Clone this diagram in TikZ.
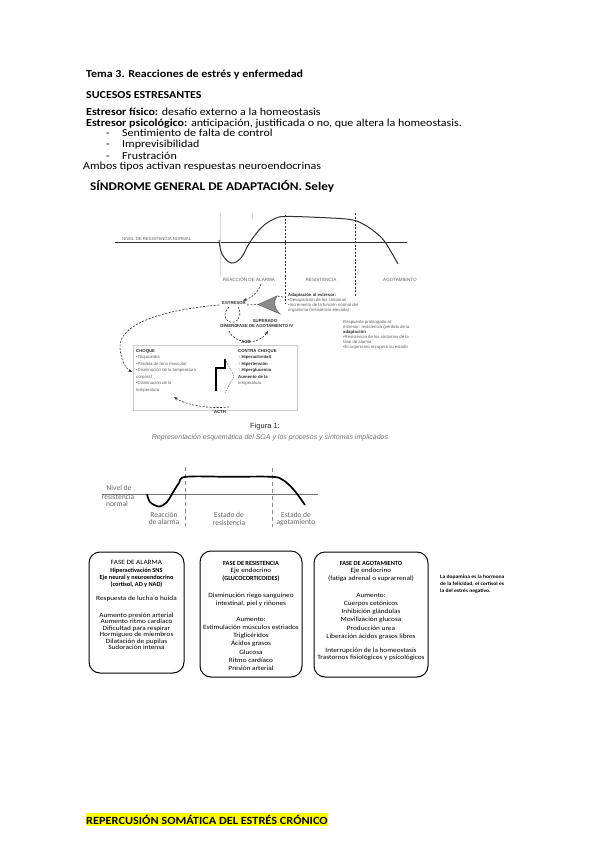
\documentclass[tikz,border=0pt]{standalone}
\usepackage{fontspec}
\setmainfont{Carlito}
\newfontfamily\wide{Carlito}[FakeStretch=1.12]
\newfontfamily\arial{Liberation Sans}
\usetikzlibrary{arrows.meta}
\definecolor{figgray}{HTML}{606060}
\definecolor{figdark}{HTML}{303030}
\definecolor{hl}{HTML}{FFFF00}
\begin{document}
\begin{tikzpicture}[x=1pt,y=-1pt,
  body/.style={anchor=base west, inner sep=0pt, font=\wide\fontsize{10.7}{12}\selectfont},
  figt/.style={anchor=base west, inner sep=0pt, font=\arial\fontsize{4.3}{5}\selectfont, text=figgray},
  figb/.style={anchor=base west, inner sep=0pt, font=\arial\bfseries\fontsize{4.3}{5}\selectfont, text=figdark},
  figlab/.style={anchor=base, inner sep=0pt, font=\arial\fontsize{4.6}{5}\selectfont, text=figgray},
  dsh/.style={dashed, dash pattern=on 2pt off 1.5pt, line width=0.6pt, figdark},
  gtxt/.style={anchor=base, inner sep=0pt, font=\fontsize{7.5}{8}\selectfont, text=black!60},
  btxt/.style={anchor=base, inner sep=0pt, font=\wide\fontsize{6.5}{7}\selectfont},
  bbold/.style={anchor=base, inner sep=0pt, font=\bfseries\fontsize{6.3}{7}\selectfont},
  phase/.style={rounded corners=11pt, line width=1pt, draw=black},
  note/.style={anchor=base west, inner sep=0pt, font=\wide\bfseries\fontsize{5}{6}\selectfont}
]
\useasboundingbox (0,0) rectangle (599,848);
\fill[white] (0,0) rectangle (599,848);

% ---------- top text ----------
\node[body] (t1) at (86,78) {\textbf{Tema 3. Reacciones de estrés y enfermedad}};
\node[body] (t2) at (86,98.3) {\textbf{SUCESOS ESTRESANTES}};
\node[body] (t3) at (86,116) {\textbf{Estresor físico:} desafío externo a la homeostasis};
\node[body] (t4) at (86,126) {\textbf{Estresor psicológico:} anticipación, justificada o no, que altera la homeostasis.};
\node[body] (d1) at (106,136.3) {-};
\node[body] (l1) at (122,136.3) {Sentimiento de falta de control};
\node[body] (d2) at (106,147.7) {-};
\node[body] (l2) at (122,147.7) {Imprevisibilidad};
\node[body] (d3) at (106,159) {-};
\node[body] (l3) at (122,159) {Frustración};
\node[body] (t5) at (83,169.7) {Ambos tipos activan respuestas neuroendocrinas};
\node[body, font=\wide\bfseries\fontsize{11.8}{13}\selectfont] (t6) at (90,190.7) {SÍNDROME GENERAL DE ADAPTACIÓN. Seley};

% ---------- Figure 1 (Selye) ----------
\coordinate (axL) at (115,242);
\coordinate (axR) at (407,242);
\draw[figdark, line width=0.8pt] (axL) -- (axR);
\node[figt] (nivel) at (122,240) {NIVEL DE RESISTENCIA NORMAL};
\draw[black!15, line width=0.5pt] (220,213) -- (220,277);
\draw[black!15, line width=0.5pt] (252,213) -- (252,219);
\draw[figdark, line width=1pt] plot[smooth, tension=0.6] coordinates {(219,240) (222,254) (231,263) (241,258) (250,242) (262,227) (274,219) (285,216.5) (320,217.5) (350,219.5) (363,224) (375,232) (385,242) (398,264)};
\coordinate (v1t) at (285,215); \coordinate (v1b) at (285,303);
\coordinate (v2t) at (355,213); \coordinate (v2b) at (355,296);
\draw[dsh] (v1t) -- (v1b);
\draw[dsh] (v2t) -- (v2b);
\node[figlab] (ra) at (249,281) {REACCIÓN DE ALARMA};
\node[figlab] (res) at (321,281) {RESISTENCIA};
\node[figlab] (ago) at (400,281) {AGOTAMIENTO};

\node[figb] (adap) at (288,296) {Adaptación al estresor:};
\node[figt] (ad1) at (288,301.5) {•Desaparición de los síntomas};
\node[figt] (ad2) at (288,306.5) {•Incremento de la función normal del};
\node[figt] (ad3) at (288,311.5) {organismo (resistencia elevada)};

\node[figb, anchor=base] (estr) at (234,304) {ESTRESOR};
\node[figb, anchor=base] (dim) at (229,327) {DÍMERO};
\node[figb, anchor=base] (sup1) at (265,322) {SUPERADO};
\node[figb, anchor=base] (sup2) at (265,327) {FASE DE AGOTAMIENTO IV};
\draw[dsh, -{Stealth[length=4pt,width=3pt]}] (261,284) .. controls (258,293) and (251,298) .. (243,300.5);
\draw[dsh] (229,307) .. controls (220,316) and (228,324) .. (234,322) .. controls (241,320) and (241,311) .. (238,307);
\draw[dsh] (247,305) -- (258,304.5);
\draw[figgray, fill=black!45, line width=0.5pt] (258,304.5) -- (277,296) .. controls (273,302) and (274,308) .. (280,314) -- cycle;
\draw[dsh] (283,297) -- (277,296);
\draw[dsh, -{Stealth[length=4pt,width=3pt]}] (219,305) .. controls (160,310) and (118,325) .. (120,348) .. controls (121,360) and (125,368) .. (132,372);
\draw[dsh, -{Stealth[length=4pt,width=3pt]}] (229,331) .. controls (234,344) and (258,346) .. (268,331);
\node[figb, anchor=base] (acb) at (246,343) {ACB};

% shock box
\draw[black!20, line width=0.5pt] (133,345) rectangle (297,410);
\node[figb] (ch) at (136,352.5) {CHOQUE};
\node[figt] (c1) at (136,358.5) {•Taquicardia};
\node[figt] (c2) at (136,365) {•Pérdida de tono muscular};
\node[figt] (c3) at (136,371.5) {•Disminución de la temperatura};
\node[figt] (c4) at (136,378) {corporal};
\node[figt] (c5) at (136,384.5) {•Disminución de la};
\node[figt] (c6) at (136,391) {temperatura};
\node[figb] (cc) at (238,352.5) {CONTRA CHOQUE};
\node[figb] (k1) at (238,358.5) {↑ Hiperactividad};
\node[figb] (k2) at (238,365) {↑ Hipertensión};
\node[figb] (k3) at (238,371.5) {↑ Hiperglucemia};
\node[figb] (k4) at (238,378) {Aumento de la};
\node[figt] (k5) at (238,384.5) {temperatura};
\draw[black, line width=1.8pt] (216,391) -- (216,368) -- (225,368) -- (225,359);
\draw[figgray, line width=0.4pt, dash pattern=on 1.5pt off 1pt] (225,359) -- (234,376) -- (225,393) -- (225,386);
\draw[dsh, -{Stealth[length=4pt,width=3pt]}] (229,407) .. controls (208,409) and (186,405) .. (174,397);
\node[figb, anchor=base] (acth) at (220,413) {ACTH};

% right note
\node[figt] (r1) at (343,323) {Respuesta prolongada al};
\node[figt] (r2) at (343,328) {estresor: resistencia (pérdida de la};
\node[figb] (r3) at (343,333) {adaptación};
\node[figt] (r4) at (343,338) {•Resistencia de los síntomas de la};
\node[figt] (r5) at (343,343) {fase de alarma};
\node[figt] (r6) at (343,348) {•El organismo recupera su estado};

\node[anchor=base, inner sep=0pt, font=\arial\fontsize{7.5}{8}\selectfont, text=black!85] (fig) at (265,428) {Figura 1:};
\node[anchor=base, inner sep=0pt, font=\arial\itshape\fontsize{7}{8}\selectfont, text=black!55] (cap) at (270,439) {Representación esquemática del SGA y los procesos y síntomas implicados};

% ---------- second graph ----------
\coordinate (g2L) at (102,494);
\coordinate (g2R) at (318,494);
\draw[black!55, line width=1pt] (g2L) -- (g2R);
\draw[black!45, dashed, dash pattern=on 4pt off 3pt, line width=0.6pt] (185,467) -- (185,526);
\draw[black!45, dashed, dash pattern=on 4pt off 3pt, line width=0.6pt] (272,468) -- (272,527);
\draw[black, line width=1.7pt] plot[smooth, tension=0.55] coordinates {(147,494) (150,502) (159,506.5) (167,502) (172,494) (179,483) (186,476.8) (230,476.8) (272,476.8) (283,480) (294,490) (305,505)};
\node[gtxt] (n1) at (119,490) {Nivel de};
\node[gtxt] (n2) at (118,499) {resistencia};
\node[gtxt] (n3) at (117,506) {normal};
\node[gtxt] (e1) at (164,517) {Reacción};
\node[gtxt] (e2) at (164,524.5) {de alarma};
\node[gtxt] (e3) at (229,517) {Estado de};
\node[gtxt] (e4) at (229,525) {resistencia};
\node[gtxt] (e5) at (296,517) {Estado de};
\node[gtxt] (e6) at (296,524.5) {agotamiento};

% ---------- phase boxes ----------
\draw[phase] (89,552) rectangle (184,673);
\draw[phase] (200,551) rectangle (302,677);
\draw[phase] (314,552) rectangle (428,677);

\node[btxt] (a0) at (136.5,564) {FASE DE ALARMA};
\node[bbold] (a1) at (136.5,572) {Hiperactivación SNS};
\node[bbold] (a2) at (136.5,579) {Eje neural y neuroendocrino};
\node[bbold] (a3) at (136.5,586) {(cortisol, AD y NAD)};
\node[btxt] (a4) at (136.5,600) {Respuesta de lucha o huida};
\node[btxt] (a5) at (136.5,617) {Aumento presión arterial};
\node[btxt] (a6) at (136.5,623.5) {Aumento ritmo cardíaco};
\node[btxt] (a7) at (136.5,630) {Dificultad para respirar};
\node[btxt] (a8) at (136.5,636.5) {Hormigueo de miembros};
\node[btxt] (a9) at (136.5,643) {Dilatación de pupilas};
\node[btxt] (a10) at (136.5,649.5) {Sudoración intensa};

\node[bbold] (b0) at (251,565) {FASE DE RESISTENCIA};
\node[btxt] (b1) at (251,572.5) {Eje endocrino};
\node[bbold] (b2) at (251,580.5) {(GLUCOCORTICOIDES)};
\node[btxt] (b3) at (251,597) {Disminución riego sanguíneo};
\node[btxt] (b4) at (251,605) {intestinal, piel y riñones};
\node[btxt] (b5) at (251,621) {Aumento:};
\node[btxt] (b6) at (251,629) {Estimulación músculos estriados};
\node[btxt] (b7) at (251,637) {Triglicéridos};
\node[btxt] (b8) at (251,645) {Ácidos grasos};
\node[btxt] (b9) at (251,654) {Glucosa};
\node[btxt] (b10) at (251,662) {Ritmo cardíaco};
\node[btxt] (b11) at (251,670) {Presión arterial};

\node[bbold] (c0) at (371,565) {FASE DE AGOTAMIENTO};
\node[btxt] (cc1) at (371,572.5) {Eje endocrino};
\node[btxt] (cc2) at (371,580.5) {(fatiga adrenal o suprarrenal)};
\node[btxt] (cc3) at (371,597) {Aumento:};
\node[btxt] (cc4) at (371,605) {Cuerpos cetónicos};
\node[btxt] (cc5) at (371,613) {Inhibición glándulas};
\node[btxt] (cc6) at (371,621) {Movilización glucosa};
\node[btxt] (cc7) at (371,630) {Producción urea};
\node[btxt] (cc8) at (371,638) {Liberación ácidos grasos libres};
\node[btxt] (cc9) at (371,652) {Interrupción de la homeostasis};
\node[btxt] (cc10) at (371,659.5) {Trastornos fisiológicos y psicológicos};

\node[note] (m1) at (440,578.5) {La dopamina es la hormona};
\node[note] (m2) at (440,585.5) {de la felicidad, el cortisol es};
\node[note] (m3) at (440,592.5) {la del estrés negativo.};

% ---------- bottom heading ----------
\node[body, font=\wide\bfseries\fontsize{11}{12}\selectfont, fill=hl, inner ysep=1.5pt, inner xsep=0pt] (rep) at (86,824) {REPERCUSIÓN SOMÁTICA DEL ESTRÉS CRÓNICO};
\end{tikzpicture}
\end{document}
